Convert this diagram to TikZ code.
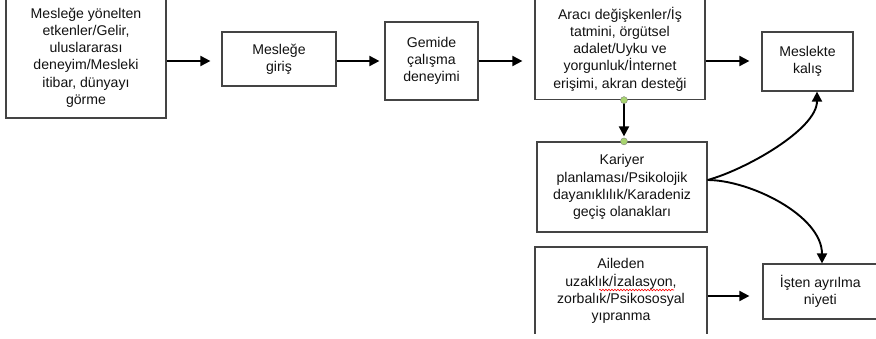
\documentclass[tikz,border=0pt]{standalone}
\usepackage{fontspec}
\setmainfont{Liberation Sans}
\usetikzlibrary{arrows.meta,decorations.pathmorphing}
\definecolor{dotgreen}{HTML}{A8D46F}
\definecolor{boxgray}{HTML}{444444}
\definecolor{textgray}{HTML}{111111}
\begin{document}
\begin{tikzpicture}[x=1pt,y=-1pt,
  box/.style={draw=boxgray, line width=1.2pt, align=center, inner sep=0pt,
    font=\fontsize{14.1}{17.2}\selectfont, text=textgray},
  arr/.style={line width=1.9pt, -{Triangle[length=10pt,width=10pt]}},
  dotnode/.style={circle, fill=dotgreen, draw=gray, line width=0.4pt,
    minimum size=7pt, inner sep=0pt},
  spellline/.style={draw=red, line width=0.6pt,
    decorate, decoration={snake, segment length=3pt, amplitude=0.8pt}}]
\useasboundingbox (0,0) rectangle (876,338);

\node[box, minimum width=160pt, minimum height=121pt] (b1) at (86,57.5)
  {Mesleğe yönelten\\etkenler/Gelir,\\uluslararası\\deneyim/Mesleki\\itibar, dünyayı\\görme};
\node[box, minimum width=114pt, minimum height=54pt] (b2) at (279,59) {Mesleğe\\giriş};
\node[box, minimum width=93pt, minimum height=78pt] (b3) at (431.5,61) {Gemide\\çalışma\\deneyimi};
\node[box, minimum width=170pt, minimum height=101pt] (b4) at (620,49)
  {Aracı değişkenler/İş\\tatmini, örgütsel\\adalet/Uyku ve\\yorgunluk/İnternet\\erişimi, akran desteği};
\node[box, minimum width=91pt, minimum height=59pt] (b5) at (807.5,61.5) {Meslekte\\kalış};
\node[box, minimum width=170pt, minimum height=90pt] (b6) at (622,187)
  {Kariyer\\planlaması/Psikolojik\\dayanıklılık/Karadeniz\\geçiş olanakları};
\begin{scope}
  \clip (0,0) rectangle (876,333);
  \node[box, minimum width=172pt, minimum height=88pt] (b7) at (621,291)
    {Aileden\\uzaklık/İzalasyon,\\zorbalık/Psikososyal\\yıpranma};
\end{scope}
\node[box, minimum width=114.5pt, minimum height=55pt] (b8) at (820.25,291.5) {İşten ayrılma\\niyeti};

\coordinate (w1) at ([xshift=-22pt,yshift=1pt]b7.center);
\coordinate (w2) at ([xshift=53pt,yshift=1pt]b7.center);
\path[spellline] (w1) -- (w2);

\coordinate (lvl) at (0,61);
\coordinate (lvl2) at (0,296);
\draw[arr, shorten >=11pt] (b1.east |- lvl) -- (b2.west |- lvl);
\draw[arr, shorten >=5pt] (b2.east |- lvl) -- (b3.west |- lvl);
\draw[arr, shorten >=12pt] (b3.east |- lvl) -- (b4.west |- lvl);
\draw[arr, shorten >=12pt] (b4.east |- lvl) -- (b5.west |- lvl);
\draw[arr, shorten >=13pt] (b7.east |- lvl2) -- (b8.west |- lvl2);

\coordinate (p1) at ([xshift=4pt]b4.south);
\coordinate (p2) at ([xshift=2pt]b6.north);
\draw[arr, shorten >=5pt] (p1) -- (p2);
\node[dotnode] (d1) at (p1) {};
\node[dotnode] (d2) at (p2) {};

\coordinate (fork) at ([yshift=7pt]b6.east);
\draw[arr] (fork) .. controls +(37,-10) and +(0,38) .. ([xshift=9.5pt]b5.south);
\draw[arr] (fork) .. controls +(42,0) and +(0,-48) .. ([xshift=1.75pt]b8.north);
\end{tikzpicture}
\end{document}
